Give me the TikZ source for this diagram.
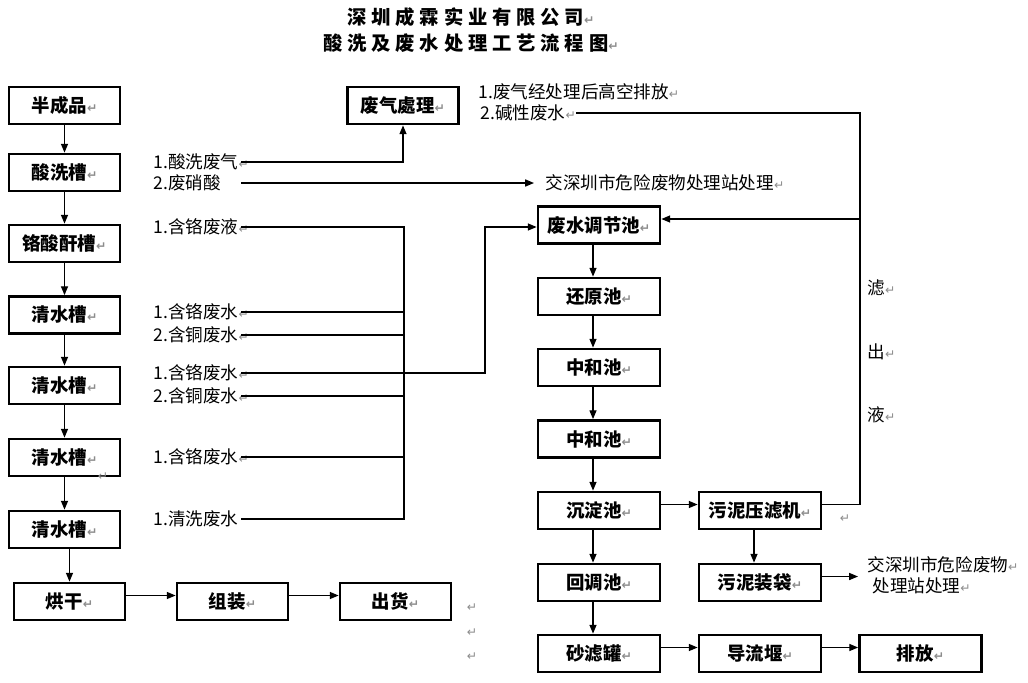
\documentclass[tikz,border=0pt]{standalone}
\usepackage{fontspec}
\setmainfont{Noto Sans CJK SC}
\newfontfamily\titlefont[LetterSpace=25]{Noto Sans CJK SC}
\newfontfamily\symfont{DejaVu Sans}
\usetikzlibrary{arrows.meta}
\newcommand{\ret}{{\symfont\color{black!45}\fontsize{7}{7}\selectfont ↵}}
\tikzset{
  vasca/.style={draw, line width=1.6pt, minimum width=2.22cm, minimum height=0.74cm, inner sep=0pt, font=\bfseries\fontsize{10.5}{12}\selectfont},
  vascar/.style={vasca, minimum width=2.44cm},
  etichetta/.style={anchor=west, inner sep=0pt, font=\fontsize{10}{12}\selectfont},
  etisx/.style={etichetta, text width=1.74cm, align=left},
  freccia/.style={-{Triangle[length=5pt,width=4pt]}}
}
\begin{document}
\begin{tikzpicture}[x=0.02cm, y=-0.02cm, line width=0.7pt]
            \useasboundingbox (0,0) rectangle (1028,683);

            %titolo
            \node[font=\titlefont\bfseries\fontsize{11}{13}\selectfont] (t1) at (471,17) {深圳成霖实业有限公司\ret};
            \node[font=\titlefont\bfseries\fontsize{11}{13}\selectfont] (t2) at (471,43) {酸洗及废水处理工艺流程图\ret};

            %disegna le vasche a sinistra
            \node[vasca] (bcp) at (64.5,105.5) {半成品\ret};
            \node[vasca] (sxc) at (64.5,172.5) {酸洗槽\ret};
            \node[vasca] (gsg) at (64.5,243.5) {铬酸酐槽\ret};
            \node[vasca] (qs1) at (64.5,315) {清水槽\ret};
            \node[vasca] (qs2) at (64.5,385.5) {清水槽\ret};
            \node[vasca] (qs3) at (64.5,457.5) {清水槽\ret};
            \node[vasca] (qs4) at (64.5,529.5) {清水槽\ret};
            \node[vasca] (hg) at (69.5,601.5) {烘干\ret};
            \node[vasca] (zz) at (232.5,601.5) {组装\ret};
            \node[vasca] (ch) at (395.5,601.5) {出货\ret};
            \node[vasca] (fq) at (403,105.5) {废气處理\ret};

            %disegna le vasche a destra
            \node[vascar] (tj) at (599,225) {废水调节池\ret};
            \node[vascar] (hy) at (599,296.5) {还原池\ret};
            \node[vascar] (zh1) at (599,367.5) {中和池\ret};
            \node[vascar] (zh2) at (599,439) {中和池\ret};
            \node[vascar] (cd) at (599,510.5) {沉淀池\ret};
            \node[vascar] (ht) at (599,582.5) {回调池\ret};
            \node[vascar] (sl) at (599,653.5) {砂滤罐\ret};
            \node[vascar] (yl) at (760,510.5) {污泥压滤机\ret};
            \node[vascar] (zd) at (760,582.5) {污泥装袋\ret};
            \node[vascar] (dl) at (760,653.5) {导流堰\ret};
            \node[vascar] (pf) at (920.5,653.5) {排放\ret};

            %etichette
            \node[etisx] (e1) at (153,162) {1.酸洗废气\ret};
            \node[etisx] (e2) at (153,183) {2.废硝酸};
            \node[etisx] (e3) at (153,227) {1.含铬废液\ret};
            \node[etisx] (e4) at (153,312) {1.含铬废水\ret};
            \node[etisx] (e5) at (153,335) {2.含铜废水\ret};
            \node[etisx] (e6) at (153,373) {1.含铬废水\ret};
            \node[etisx] (e7) at (153,396) {2.含铜废水\ret};
            \node[etisx] (e8) at (153,457) {1.含铬废水\ret};
            \node[etisx] (e9) at (153,519) {1.清洗废水};
            \node[etichetta] (e10) at (478,92) {1.废气经处理后高空排放\ret};
            \node[etichetta] (e11) at (480,113) {2.碱性废水\ret};
            \node[etichetta] (e12) at (545,183) {交深圳市危险废物处理站处理\ret};
            \node[etichetta] (e13) at (867,288) {滤\ret};
            \node[etichetta] (e14) at (867,352) {出\ret};
            \node[etichetta] (e15) at (867,415) {液\ret};
            \node[etichetta, align=left] (e16) at (867,575) {交深圳市危险废物\ret\\\hspace{0.1cm}处理站处理\ret};
            \foreach \p [count=\i] in {(103,477),(845,519),(472,608),(472,633),(472,657)}
                \node (r\i) at \p {\ret};

            %frecce a sinistra
            \foreach \a/\b in {bcp/sxc, sxc/gsg, gsg/qs1, qs1/qs2, qs2/qs3, qs3/qs4}
                \draw[freccia] (\a) -- (\b);
            \foreach \a/\b in {hg/zz, zz/ch}
                \draw[freccia] ([yshift=0.12cm]\a.east) -- ([yshift=0.12cm]\b.west);
            \draw[freccia] (qs4.south -| hg.north) -- (hg.north);
            \draw[freccia] (e1.east) -| (fq.south);
            \draw[freccia, shorten >=0.22cm] (e2.east) -- (e12.west);

            %raccolta acque di scarico
            \coordinate (bl) at (404,0);
            \coordinate (br) at (485,0);
            \coordinate (bf) at (860,0);
            \draw (e3.east) -- (e3.east -| bl) -- (e9.east -| bl) -- (e9.east);
            \foreach \n in {e4,e5,e7,e8}
                \draw (\n.east) -- (\n.east -| bl);
            \draw[freccia] (e6.east) -- (e6.east -| br) -- (br |- e3.east) -- (tj.west |- e3.east);

            %frecce a destra
            \foreach \a/\b in {tj/hy, hy/zh1, zh1/zh2, zh2/cd, cd/ht, ht/sl, yl/zd}
                \draw[freccia] ([xshift=-0.12cm]\a.south) -- ([xshift=-0.12cm]\b.north);
            \foreach \a/\b in {cd/yl, sl/dl, dl/pf}
                \draw[freccia] ([yshift=0.12cm]\a.east) -- ([yshift=0.12cm]\b.west);
            \draw[freccia, shorten >=0.18cm] ([yshift=0.12cm]zd.east) -- ([yshift=0.12cm]zd.east -| e16.west);
            \draw ([yshift=0.12cm]yl.east) -- ([yshift=0.12cm]yl.east -| bf) -- (bf |- e11.east) -- (e11.east);
            \draw[freccia] ([yshift=0.12cm]bf |- tj.east) -- ([yshift=0.12cm]tj.east);
        \end{tikzpicture}
\end{document}
